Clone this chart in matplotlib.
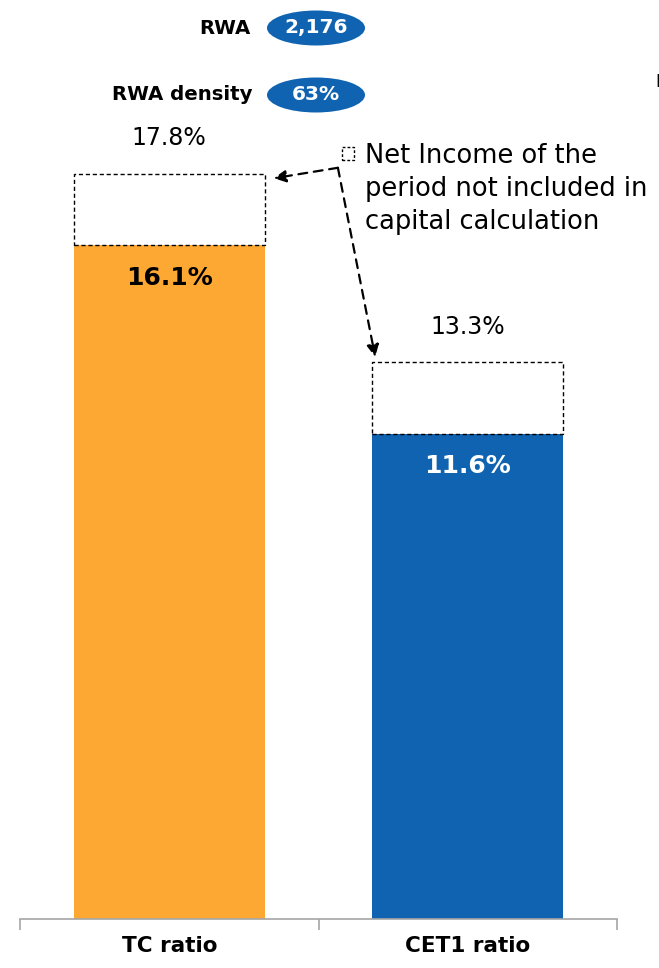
import matplotlib.pyplot as plt
from matplotlib.patches import Ellipse, Rectangle

# === DATA ===
categories = ["TC ratio", "CET1 ratio"]
solid_values = [16.1, 11.6]      # ratio included in capital
total_values = [17.8, 13.3]      # ratio incl. net income of the period
bar_colors = ["#FCA832", "#0F63B1"]
inner_label_colors = ["black", "white"]
rwa_labels = ["RWA", "RWA density"]
rwa_values = ["2,176", "63%"]
note_text = "Net Income of the\nperiod not included in\ncapital calculation"

W, H = 659, 968
fig = plt.figure(figsize=(W / 100, H / 100), dpi=100)
plt.rcParams["font.family"] = ["DejaVu Sans"]

# axes: baseline at y=919px, x from 20px to 617px
ax = fig.add_axes([20 / W, (H - 919) / H, 597 / W, 919 / H])
x = list(range(len(categories)))

ax.bar(x, solid_values, width=0.64, color=bar_colors, zorder=2)
ax.bar(x, [t - s for t, s in zip(total_values, solid_values)], bottom=solid_values,
       width=0.64, fill=False, edgecolor="black", linestyle=(0, (3, 2)), linewidth=1, zorder=3)

for i in x:
    ax.text(i, total_values[i] + 0.85, f"{total_values[i]:.1f}%", ha="center", va="center",
            fontsize=17, color="black")
    ax.text(i, solid_values[i] - 0.78, f"{solid_values[i]:.1f}%", ha="center", va="center",
            fontsize=18, fontweight="bold", color=inner_label_colors[i])

ax.set_xlim(-0.5, 1.5)
ax.set_ylim(0, 919 / 41.85)

for s in ["top", "right", "left"]:
    ax.spines[s].set_visible(False)
ax.spines["bottom"].set_color("#A6A6A6")
ax.spines["bottom"].set_linewidth(1.2)
ax.set_yticks([])
ax.set_xticks([-0.5, 0.5, 1.5])
ax.set_xticklabels([])
ax.tick_params(axis="x", which="major", length=8, color="#A6A6A6", width=1.2)
ax.set_xticks(x, minor=True)
ax.set_xticklabels(categories, minor=True, fontsize=15.5, fontweight="bold")
ax.tick_params(axis="x", which="minor", length=0, pad=12)

# dashed legend marker + note
ax.add_patch(Rectangle((0.578, 18.13), 0.04, 0.32, fill=False, edgecolor="black",
                       linestyle=(0, (2, 1.5)), linewidth=1, clip_on=False))
ax.text(0.656, 18.55, note_text, ha="left", va="top", fontsize=18.5, linespacing=1.35)

# dashed arrows
arrow_style = dict(arrowstyle="-|>", color="black", linestyle=(0, (4, 3)), linewidth=1.6,
                   mutation_scale=18, shrinkA=0, shrinkB=0)
ax.annotate("", xy=(0.35, 17.7), xytext=(0.565, 17.95), arrowprops=arrow_style)
ax.annotate("", xy=(0.69, 13.43), xytext=(0.565, 17.95), arrowprops=arrow_style)

# RWA badges
for j, (lab, val) in enumerate(zip(rwa_labels, rwa_values)):
    cy = 1 - (28 + 67 * j) / H
    fig.text(250 / W + 0.004 * j, cy, lab, ha="right", va="center", fontsize=14.2, fontweight="bold")
    fig.add_artist(Ellipse((316 / W, cy), 98 / W, 35 / H, transform=fig.transFigure,
                           facecolor="#0F63B1", edgecolor="none"))
    fig.text(316 / W, cy, val, ha="center", va="center", fontsize=14.5, fontweight="bold",
             color="white")

# cut-off letter from neighbouring chart (only a sliver is visible)
fig.text(655 / W, 1 - 82 / H, "N", ha="left", va="center", fontsize=12)

fig.savefig("out.png", dpi=100)
